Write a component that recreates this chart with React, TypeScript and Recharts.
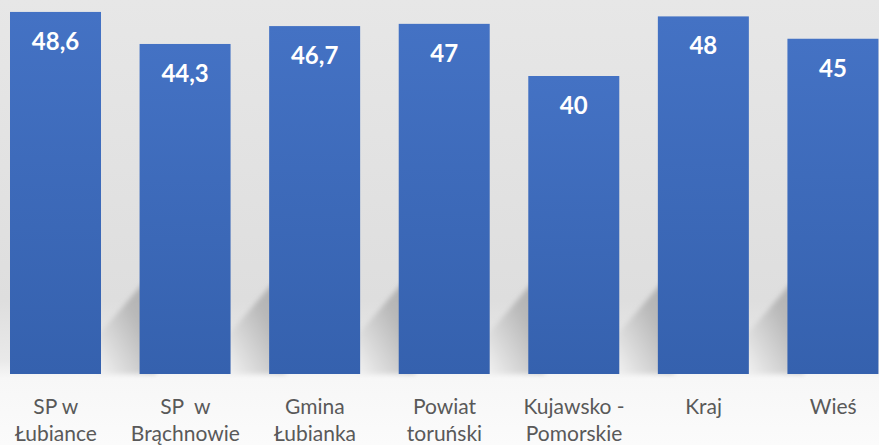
import React from "react";
import { BarChart, Bar, XAxis, YAxis, LabelList } from "recharts";

const categories = [
  "SP w\nŁubiance",
  "SP  w\nBrąchnowie",
  "Gmina\nŁubianka",
  "Powiat\ntoruński",
  "Kujawsko -\nPomorskie",
  "Kraj",
  "Wieś",
];
const values = [48.6, 44.3, 46.7, 47, 40, 48, 45];

const data = categories.map((nazwa, i) => ({ nazwa, wynik: values[i] }));

const FONT = "Lato, 'Open Sans', sans-serif";

const CategoryTick = ({ x, y, payload }: { x?: number; y?: number; payload?: { value: string } }) => {
  const lines = String(payload?.value ?? "").split("\n");
  return (
    <text
      x={x}
      y={y}
      textAnchor="middle"
      fill="#595959"
      fontSize={21}
      fontFamily={FONT}
      style={{ whiteSpace: "pre" }}
    >
      {lines.map((l, i) => (
        <tspan key={i} x={x} y={(y ?? 0) + 40 + i * 27}>
          {l}
        </tspan>
      ))}
    </text>
  );
};

// bar with a soft diagonal drop shadow falling to the right
const ShadowBar = (props: any) => {
  const { x, y, width, height, index } = props;
  const R = x + width;
  const B = y + height;
  const gid = `shadowGrad${index}`;
  const bid = `barGrad${index}`;
  const fid = `blur${index}`;
  return (
    <g>
      <defs>
        <linearGradient id={gid} x1="1" y1="0" x2="0" y2="1">
          <stop offset="0%" stopColor="#a9a9a9" />
          <stop offset="40%" stopColor="#b9b9b9" />
          <stop offset="100%" stopColor="#f4f4f4" />
        </linearGradient>
        <linearGradient id={bid} x1="0" y1="0" x2="0" y2="1">
          <stop offset="0%" stopColor="#4472c4" />
          <stop offset="100%" stopColor="#3561ae" />
        </linearGradient>
        <filter id={fid} x="-30%" y="-30%" width="160%" height="160%">
          <feGaussianBlur stdDeviation="2.5" />
        </filter>
      </defs>
      <polygon
        points={`${R - 5},${B} ${R - 5},${B - 36} ${R + 55},${B - 106} ${R + 55},${B}`}
        fill={`url(#${gid})`}
        filter={`url(#${fid})`}
      />
      <rect x={x} y={y} width={width} height={height} fill={`url(#${bid})`} />
    </g>
  );
};

export default function App() {
  return (
    <div
      style={{
        position: "fixed",
        top: 0,
        left: 0,
        width: 879,
        height: 445,
        overflow: "hidden",
        background:
          "linear-gradient(to bottom, #e7e7e7 0px, #dedede 300px, #e9e9e9 360px, #f7f7f7 378px, #fbfbfb 445px)",
      }}
    >
      <div style={{ position: "absolute", left: -9, top: 0 }}>
        <BarChart
          width={907}
          height={445}
          data={data}
          margin={{ top: 1.5, right: 0, bottom: 0, left: 0 }}
          barSize={91}
        >
          <XAxis
            dataKey="nazwa"
            axisLine={false}
            tickLine={false}
            tickSize={0}
            tickMargin={0}
            height={71}
            interval={0}
            tick={<CategoryTick />}
          />
          <YAxis hide domain={[0, 50]} />
          <Bar dataKey="wynik" shape={<ShadowBar />} isAnimationActive={false}>
            <LabelList
              dataKey="wynik"
              position="insideTop"
              offset={21}
              fill="#ffffff"
              fontSize={24}
              fontWeight="bold"
              fontFamily={FONT}
              formatter={(v: any) => String(v).replace(".", ",")}
            />
          </Bar>
        </BarChart>
      </div>
    </div>
  );
}
